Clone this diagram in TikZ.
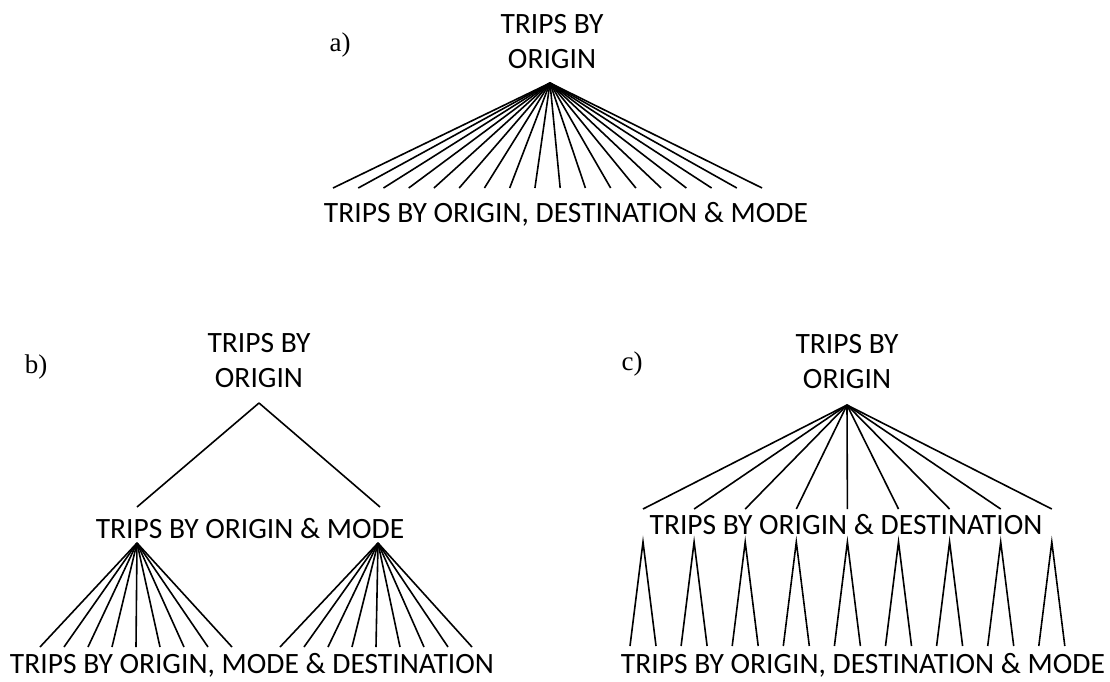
\documentclass[tikz,border=0pt]{standalone}
\usepackage{fontspec}
\setmainfont{Carlito}
\newfontfamily\tagfont{Liberation Serif}
\usepackage{tikz}

\begin{document}
\begin{tikzpicture}[x=1pt,y=-1pt]
    \tikzstyle{level} = [align=center,font=\fontsize{29.5}{35}\selectfont,inner sep=0pt]
    \tikzstyle{tag} = [font=\tagfont\fontsize{27}{30}\selectfont,inner sep=0pt]
    \tikzstyle{branch} = [line width=1.6pt]
    \useasboundingbox (0,0) rectangle (1110,681);

    % a) one level
    \node[tag] at (340,45) (taga) {a)};
    \node[level] at (552,42) (aroot) {TRIPS BY\\ORIGIN};
    \node[level] at (566,214) (aleaves) {TRIPS BY ORIGIN, DESTINATION \& MODE};
    \coordinate (atop) at (550,83);
    \foreach \i in {0,...,17} {
        \coordinate (aleaf\i) at (333+\i*25.24,188);
        \draw[branch] (atop) -- (aleaf\i);
    }

    % b) origin, then mode, then destination
    \node[tag] at (36,367) (tagb) {b)};
    \node[level] at (259,361) (broot) {TRIPS BY\\ORIGIN};
    \node[level] at (250,529) (bmid) {TRIPS BY ORIGIN \& MODE};
    \node[level] at (252,665) (bleaves) {TRIPS BY ORIGIN, MODE \& DESTINATION};
    \coordinate (btop) at (259,403);
    \coordinate (bmodeL) at (137,543);
    \coordinate (bmodeR) at (378,543);
    \coordinate (borigL) at (137,507);
    \coordinate (borigR) at (380,507);
    \draw[branch] (btop) -- (borigL);
    \draw[branch] (btop) -- (borigR);
    \foreach \i in {0,...,8} {
        \coordinate (bleafL\i) at (40+\i*24,647);
        \coordinate (bleafR\i) at (280+\i*24,647);
        \draw[branch] (bmodeL) -- (bleafL\i);
        \draw[branch] (bmodeR) -- (bleafR\i);
    }

    % c) origin, then destination, then mode
    \node[tag] at (632,364) (tagc) {c)};
    \node[level] at (847,362) (croot) {TRIPS BY\\ORIGIN};
    \node[level] at (846,525) (cmid) {TRIPS BY ORIGIN \& DESTINATION};
    \node[level] at (863,665) (cleaves) {TRIPS BY ORIGIN, DESTINATION \& MODE};
    \coordinate (ctop) at (847,405);
    \foreach \i in {0,...,8} {
        \coordinate (cdest\i) at (643+\i*51.1,509);
        \coordinate (cmode\i) at (643+\i*51.1,542);
        \coordinate (cfootL\i) at (630+\i*51.1,646);
        \coordinate (cfootR\i) at (656+\i*51.1,646);
        \draw[branch] (ctop) -- (cdest\i);
        \draw[branch] (cfootL\i) -- (cmode\i) -- (cfootR\i);
    }
\end{tikzpicture}
\end{document}
